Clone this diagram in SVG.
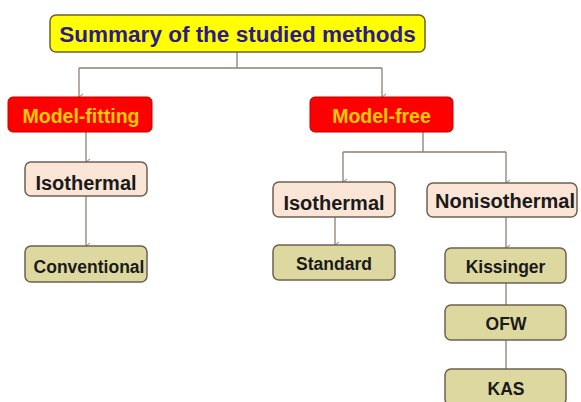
<svg xmlns="http://www.w3.org/2000/svg" width="581" height="402" viewBox="0 0 581 402">
<defs>
<marker id="arr" markerWidth="8" markerHeight="8" refX="4" refY="6" orient="auto-start-reverse" markerUnits="userSpaceOnUse" viewBox="0 0 8 8">
<path d="M1,2 L4,6 L7,2" fill="none" stroke="#8a7f7a" stroke-width="1"/>
</marker>
<style>
.ln{fill:none;stroke:#8a7f7a;stroke-width:1.3}
.box{stroke:#6e6050;stroke-width:1.5}
.peach{fill:#fbe5d6}
.khaki{fill:#ddd8a0}
.red{fill:#ff0000;stroke:#c00000;stroke-width:1}
.t{font-family:"Liberation Sans",Arial,sans-serif;font-weight:bold;text-anchor:middle}
.pt{font-size:20px;fill:#1a1a1a}
.kt{font-size:17.5px;fill:#1a1a1a}
.rt{font-size:19.5px;fill:#ffcc00}
</style>
</defs>
<rect width="581" height="402" fill="#ffffff"/>
<g id="connectors">
<path class="ln" d="M237,52 V68 M79,68 H382"/>
<path class="ln" d="M79,68 V97" marker-end="url(#arr)"/>
<path class="ln" d="M382,68 V97" marker-end="url(#arr)"/>
<path class="ln" d="M86,132 V162" marker-end="url(#arr)"/>
<path class="ln" d="M86,196 V246" marker-end="url(#arr)"/>
<path class="ln" d="M423,132 V152 M343,152 H506"/>
<path class="ln" d="M343,152 V182" marker-end="url(#arr)"/>
<path class="ln" d="M506,152 V183" marker-end="url(#arr)"/>
<path class="ln" d="M335,217 V245" marker-end="url(#arr)"/>
<path class="ln" d="M506,217 V248" marker-end="url(#arr)"/>
<path class="ln" d="M506,283 V305 M506,340 V369"/>
</g>
<g id="title">
<rect x="50" y="15" width="375" height="37" rx="6" fill="#ffff00" stroke="#6e6030" stroke-width="1.5"/>
<text class="t" x="237.5" y="42" font-size="22.5" fill="#2c1a8c">Summary of the studied methods</text>
</g>
<g id="model-fitting">
<rect class="red" x="8" y="97" width="144" height="35" rx="5"/>
<text class="t rt" x="81" y="123">Model-fitting</text>
</g>
<g id="model-free">
<rect class="red" x="310" y="97" width="143" height="35" rx="5"/>
<text class="t rt" x="381.5" y="123">Model-free</text>
</g>
<g id="isothermal-left">
<rect class="box peach" x="25" y="162" width="122" height="34" rx="6"/>
<text class="t pt" x="86" y="190">Isothermal</text>
</g>
<g id="conventional">
<rect class="box khaki" x="25" y="246" width="122" height="36" rx="6"/>
<text class="t kt" x="89" y="273">Conventional</text>
</g>
<g id="isothermal-right">
<rect class="box peach" x="273" y="182" width="122" height="35" rx="6"/>
<text class="t pt" x="334" y="210">Isothermal</text>
</g>
<g id="nonisothermal">
<rect class="box peach" x="427" y="183" width="150" height="34" rx="6"/>
<text class="t pt" x="505" y="208">Nonisothermal</text>
</g>
<g id="standard">
<rect class="box khaki" x="273" y="245" width="122" height="35" rx="6"/>
<text class="t kt" x="334" y="270">Standard</text>
</g>
<g id="kissinger">
<rect class="box khaki" x="445" y="248" width="121" height="35" rx="6"/>
<text class="t kt" x="505.5" y="273">Kissinger</text>
</g>
<g id="ofw">
<rect class="box khaki" x="445" y="305" width="121" height="35" rx="6"/>
<text class="t kt" x="506" y="330">OFW</text>
</g>
<g id="kas">
<rect class="box khaki" x="445" y="369" width="121" height="36" rx="6"/>
<text class="t kt" x="506" y="395">KAS</text>
</g>
</svg>
